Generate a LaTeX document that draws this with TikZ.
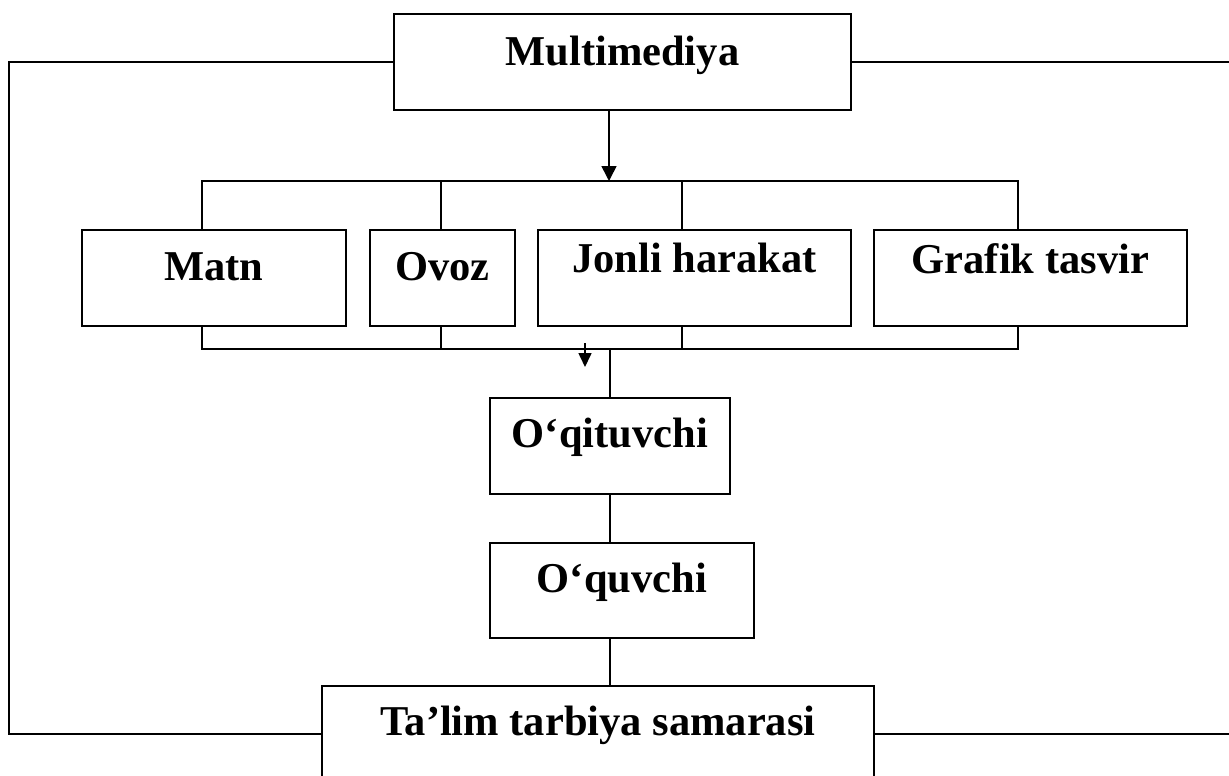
\documentclass[tikz,border=0pt]{standalone}
\usepackage{fontspec}
\setmainfont{Liberation Serif}
\usetikzlibrary{arrows.meta}
\begin{document}
\begin{tikzpicture}[x=1pt,y=-1pt,
  box/.style={draw, line width=1.8pt, inner sep=0pt, font=\fontsize{42.5}{48}\selectfont\bfseries, anchor=north west},
  ln/.style={line width=1.6pt},
  arr/.style={line width=1.6pt, -{Triangle[length=15pt,width=15pt]}},
  sarr/.style={line width=1.6pt, -{Triangle[length=14pt,width=13pt]}}]
\useasboundingbox (0,0) rectangle (1229,776);
\clip (0,0) rectangle (1229,776);
% boxes
\node[box, minimum width=457, text height=52, text depth=44] (mm) at (393,13) {Multimediya};
\node[box, minimum width=264, text height=51, text depth=45] (matn) at (81,229) {Matn};
\node[box, minimum width=145, text height=51, text depth=45] (ovoz) at (369,229) {Ovoz};
\node[box, minimum width=313, text height=43, text depth=53] (jonli) at (537,229) {Jonli harakat};
\node[box, minimum width=313, text height=44, text depth=52] (grafik) at (873,229) {Grafik tasvir};
\node[box, minimum width=240, text height=50, text depth=46] (oqit) at (489,397) {O‘qituvchi};
\node[box, minimum width=264, text height=50, text depth=45] (oquv) at (489,542) {O‘quvchi};
\node[box, minimum width=552, text height=50, text depth=46] (talim) at (321,685) {Ta’lim tarbiya samarasi};
% bus coordinates
\coordinate (tb) at (609,181);
\coordinate (bb) at (609,349);
\coordinate (x1) at (202,0);
\coordinate (x2) at (441,0);
\coordinate (x3) at (682,0);
\coordinate (x4) at (1018,0);
\coordinate (lx) at (9,0);
\coordinate (rx) at (1240,0);
\coordinate (sa1) at (585,343);
\coordinate (sa2) at (585,367);
% multimedia to top bus
\draw[arr] (mm.south -| tb) -- (tb);
\draw[ln] (x1 |- matn.north) -- (x1 |- tb) -- (x4 |- tb) -- (x4 |- grafik.north);
\draw[ln] (x2 |- tb) -- (x2 |- ovoz.north);
\draw[ln] (x3 |- tb) -- (x3 |- jonli.north);
% bottom bus
\draw[ln] (x1 |- matn.south) -- (x1 |- bb) -- (x4 |- bb) -- (x4 |- grafik.south);
\draw[ln] (x2 |- ovoz.south) -- (x2 |- bb);
\draw[ln] (x3 |- jonli.south) -- (x3 |- bb);
\draw[ln] (oqit.north |- bb) -- (oqit.north);
\draw[sarr] (sa1) -- (sa2);
% chain
\draw[ln] (oqit.south) -- (oqit.south |- oquv.north);
\draw[ln] (oqit.south |- oquv.south) -- (oqit.south |- talim.north);
% outer loop
\draw[ln] (mm.west) -- (lx |- mm.west) -- (lx |- talim.west) -- (talim.west);
\draw[ln] (mm.east) -- (rx |- mm.east);
\draw[ln] (talim.east) -- (rx |- talim.east);
\end{tikzpicture}
\end{document}
